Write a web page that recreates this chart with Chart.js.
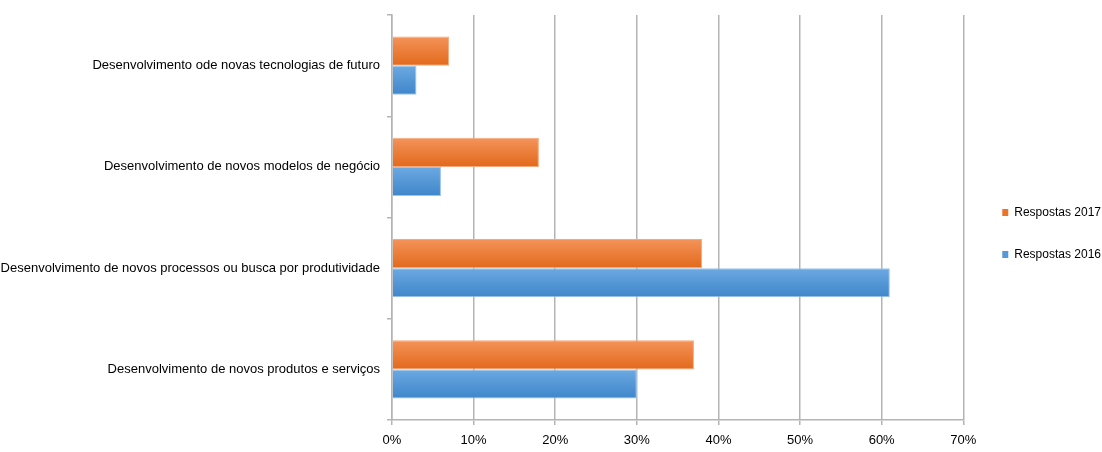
<!DOCTYPE html>
<html>
<head>
<meta charset="utf-8">
<script src="https://cdn.jsdelivr.net/npm/chart.js@4"></script>
<style>
  html, body { margin: 0; padding: 0; background: #fff; }
  #wrap { width: 1102px; height: 452px; position: relative; }
</style>
</head>
<body>
<div id="wrap"><canvas id="c"></canvas></div>
<script>
const categories = [
  'Desenvolvimento ode novas tecnologias de futuro',
  'Desenvolvimento de novos modelos de negócio',
  'Desenvolvimento de novos processos ou busca por produtividade',
  'Desenvolvimento de novos produtos e serviços'
];
const respostas2017 = [7, 18, 38, 37];
const respostas2016 = [3, 6, 61, 30];
const xTicks = [0, 10, 20, 30, 40, 50, 60, 70];

const FONT = '"Liberation Sans", Arial, sans-serif';

// vertical gradient per bar, like the Excel default style
function barFill(top, bottom, dsIndex) {
  return (ctx) => {
    const chart = ctx.chart;
    const y = chart.scales.y;
    if (!y || ctx.dataIndex === undefined) return bottom;
    const center = y.getPixelForValue(ctx.dataIndex);
    const h = 29;
    const y0 = dsIndex === 0 ? center - h : center;
    const g = chart.ctx.createLinearGradient(0, y0, 0, y0 + h);
    g.addColorStop(0, top);
    g.addColorStop(1, bottom);
    return g;
  };
}

// nudge the legend to the right, as in the original
const legendShift = {
  id: 'legendShift',
  afterLayout(chart) {
    if (chart.legend) {
      chart.legend.left += 9;
      chart.legend.right += 9;
    }
  },
};

new Chart(document.getElementById('c'), {
  type: 'bar',
  data: {
    labels: categories,
    datasets: [
      {
        label: 'Respostas 2017',
        data: respostas2017,
        backgroundColor: barFill('#f4935a', '#e2691b', 0),
        borderColor: '#f5a97a',
        borderWidth: 1,
        categoryPercentage: 0.575,
        barPercentage: 1.0,
      },
      {
        label: 'Respostas 2016',
        data: respostas2016,
        backgroundColor: barFill('#6ca9e2', '#3f86ca', 1),
        borderColor: '#9cc4ea',
        borderWidth: 1,
        categoryPercentage: 0.575,
        barPercentage: 1.0,
      },
    ],
  },
  options: {
    indexAxis: 'y',
    responsive: true,
    maintainAspectRatio: false,
    animation: false,
    layout: { padding: { top: 15, right: 0, bottom: 0, left: 0 } },
    scales: {
      x: {
        min: 0,
        max: 70,
        afterBuildTicks: (axis) => { axis.ticks = xTicks.map((v) => ({ value: v })); },
        afterFit: (axis) => { axis.height = 32; },
        grid: { color: '#b4b4b4', lineWidth: 1.5, tickLength: 5, drawTicks: true },
        border: { color: '#b4b4b4', width: 1.5 },
        ticks: {
          callback: (v) => v + '%',
          color: '#000',
          font: { family: FONT, size: 13 },
          padding: 8,
          maxRotation: 0,
        },
      },
      y: {
        afterFit: (axis) => { axis.width = 392; },
        grid: { drawOnChartArea: false, drawTicks: true, tickLength: 5, color: '#b4b4b4', lineWidth: 1.5 },
        border: { color: '#b4b4b4', width: 1.5 },
        ticks: {
          color: '#000',
          font: { family: FONT, size: 13 },
          padding: 7,
        },
      },
    },
    plugins: {
      legend: {
        position: 'right',
        maxWidth: 139,
        labels: {
          boxWidth: 6,
          boxHeight: 7,
          padding: 30,
          color: '#000',
          font: { family: FONT, size: 12 },
          generateLabels: (chart) => chart.data.datasets.map((ds, i) => ({
            text: ds.label,
            fillStyle: i === 0 ? '#ec7428' : '#5699d8',
            strokeStyle: 'transparent',
            lineWidth: 0,
            datasetIndex: i,
          })),
        },
      },
      tooltip: { enabled: false },
    },
  },
  plugins: [legendShift],
});
</script>
</body>
</html>
